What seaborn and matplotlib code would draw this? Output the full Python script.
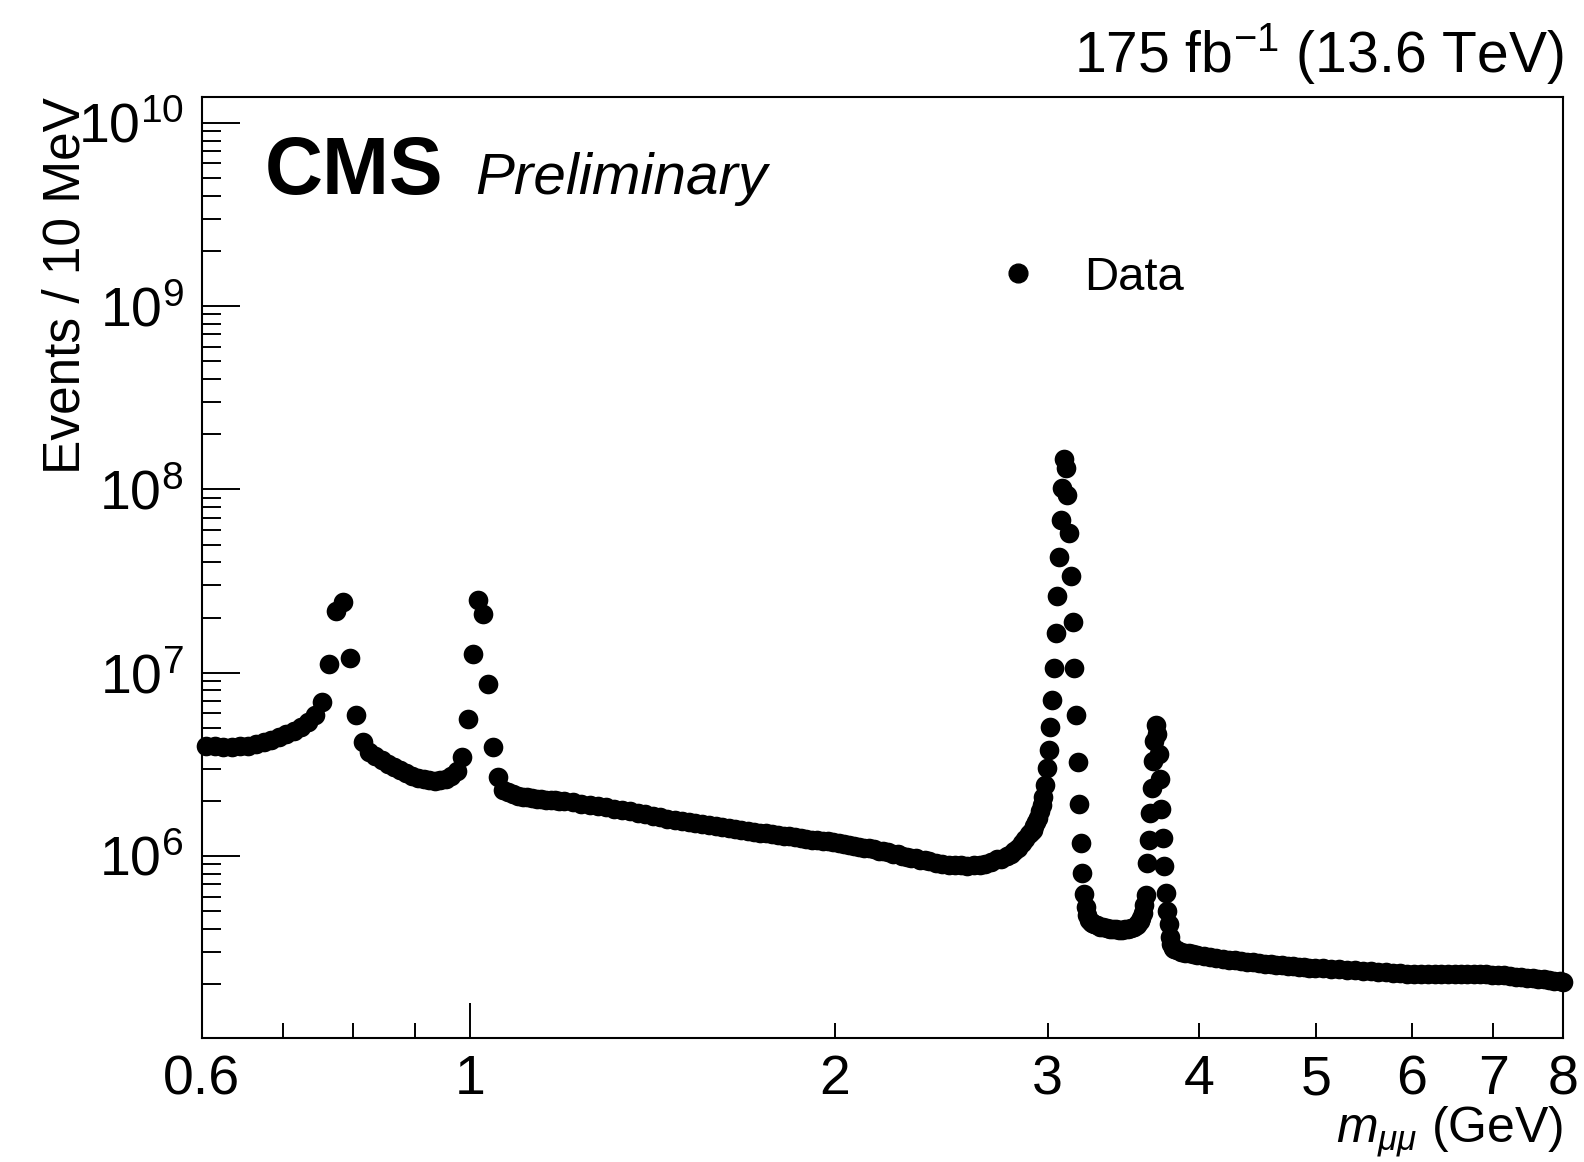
import matplotlib
matplotlib.use("Agg")
import matplotlib.pyplot as plt
import numpy as np
import pandas as pd
import seaborn as sns
from matplotlib.ticker import FixedLocator, FixedFormatter, LogLocator, NullFormatter

# ---------------- data (bin centres in GeV, events / 10 MeV) ----------------
low_m = [0.605, 0.615, 0.625, 0.635, 0.645, 0.655, 0.665, 0.675, 0.685, 0.695,
         0.705, 0.715, 0.725, 0.735, 0.745, 0.755, 0.765, 0.775, 0.785, 0.795,
         0.805, 0.815]
low_n = [4.00e6, 3.96e6, 3.94e6, 3.94e6, 3.96e6, 4.00e6, 4.08e6, 4.18e6, 4.30e6, 4.45e6,
         4.62e6, 4.82e6, 5.06e6, 5.38e6, 5.90e6, 6.95e6, 1.11e7, 2.18e7, 2.42e7, 1.21e7,
         5.88e6, 4.21e6]

mid_m = [0.825, 0.835, 0.845, 0.855, 0.865, 0.875, 0.885, 0.895, 0.905, 0.915,
         0.925, 0.935, 0.945, 0.955, 0.965, 0.975]
mid_n = [3.71e6, 3.50e6, 3.33e6, 3.18e6, 3.05e6, 2.93e6, 2.83e6, 2.74e6, 2.67e6, 2.62e6,
         2.59e6, 2.58e6, 2.60e6, 2.64e6, 2.72e6, 2.90e6]

phi_m = [0.985, 0.995, 1.005, 1.015, 1.025, 1.035, 1.045, 1.055]
phi_n = [3.48e6, 5.57e6, 1.26e7, 2.49e7, 2.09e7, 8.67e6, 3.92e6, 2.71e6]

cont_m = [1.065, 1.075, 1.085, 1.095, 1.105, 1.115, 1.125, 1.135, 1.145, 1.155,
          1.165, 1.175, 1.185, 1.195, 1.215, 1.235, 1.255, 1.275, 1.295, 1.315,
          1.335, 1.355, 1.375, 1.395, 1.415, 1.435, 1.455, 1.475, 1.495, 1.515,
          1.535, 1.555, 1.575, 1.595, 1.615, 1.635, 1.655, 1.675, 1.695, 1.715,
          1.735, 1.755, 1.775, 1.795, 1.815, 1.835, 1.855, 1.875, 1.895, 1.915,
          1.935, 1.955, 1.975, 1.995, 2.015, 2.035, 2.055, 2.075, 2.095, 2.115,
          2.135, 2.155, 2.175, 2.195, 2.215, 2.235, 2.255, 2.275, 2.295, 2.315,
          2.335, 2.355, 2.375, 2.395, 2.425, 2.455, 2.485, 2.515, 2.545, 2.575,
          2.605, 2.635, 2.665, 2.695, 2.725, 2.745, 2.775, 2.795, 2.815, 2.835,
          2.855, 2.875, 2.895, 2.905, 2.915, 2.925, 2.935, 2.945, 2.955, 2.965,
          2.975, 2.985]
cont_n = [2.30e6, 2.22e6, 2.17e6, 2.13e6, 2.10e6, 2.085e6, 2.07e6, 2.055e6, 2.04e6, 2.03e6,
          2.02e6, 2.01e6, 2.00e6, 1.99e6, 1.96e6, 1.93e6, 1.90e6, 1.87e6, 1.84e6, 1.81e6,
          1.78e6, 1.75e6, 1.72e6, 1.69e6, 1.66e6, 1.63e6, 1.60e6, 1.58e6, 1.555e6, 1.53e6,
          1.51e6, 1.49e6, 1.47e6, 1.45e6, 1.435e6, 1.42e6, 1.405e6, 1.39e6, 1.37e6, 1.35e6,
          1.34e6, 1.33e6, 1.315e6, 1.30e6, 1.29e6, 1.28e6, 1.265e6, 1.25e6, 1.24e6, 1.23e6,
          1.22e6, 1.21e6, 1.20e6, 1.19e6, 1.175e6, 1.16e6, 1.15e6, 1.135e6, 1.12e6, 1.11e6,
          1.10e6, 1.085e6, 1.07e6, 1.06e6, 1.045e6, 1.03e6, 1.02e6, 1.005e6, 9.9e5, 9.8e5,
          9.7e5, 9.55e5, 9.45e5, 9.35e5, 9.2e5, 9.08e5, 8.98e5, 8.92e5, 8.88e5, 8.87e5,
          8.9e5, 8.96e5, 9.08e5, 9.3e5, 9.6e5, 9.65e5, 9.95e5, 1.02e6, 1.06e6, 1.11e6,
          1.17e6, 1.24e6, 1.31e6, 1.35e6, 1.39e6, 1.45e6, 1.53e6, 1.62e6, 1.75e6, 1.90e6,
          2.10e6, 2.45e6]

jpsi_m = [2.995, 3.005, 3.015, 3.025, 3.035, 3.045, 3.055, 3.065, 3.075, 3.085,
          3.095, 3.105, 3.115, 3.125, 3.135, 3.145, 3.155, 3.165, 3.175, 3.185,
          3.195, 3.205, 3.215, 3.225]
jpsi_n = [3.01e6, 3.77e6, 5.05e6, 7.06e6, 1.06e7, 1.64e7, 2.63e7, 4.29e7, 6.81e7, 1.02e8,
          1.46e8, 1.31e8, 9.31e7, 5.77e7, 3.37e7, 1.90e7, 1.06e7, 5.85e6, 3.27e6, 1.91e6,
          1.17e6, 8.09e5, 6.18e5, 5.24e5]

gap_m = [3.235, 3.245, 3.255, 3.265, 3.275, 3.295, 3.315, 3.335, 3.355, 3.375,
         3.395, 3.415, 3.435, 3.455, 3.475, 3.495, 3.515, 3.535, 3.555, 3.565,
         3.575, 3.585, 3.595, 3.605]
gap_n = [4.75e5, 4.50e5, 4.38e5, 4.30e5, 4.25e5, 4.18e5, 4.12e5, 4.08e5, 4.05e5, 4.02e5,
         4.00e5, 3.98e5, 3.97e5, 3.97e5, 3.98e5, 4.00e5, 4.05e5, 4.12e5, 4.22e5, 4.30e5,
         4.42e5, 4.60e5, 4.90e5, 5.40e5]

psi2s_m = [3.615, 3.625, 3.635, 3.645, 3.655, 3.665, 3.675, 3.685, 3.695, 3.705,
           3.715, 3.725, 3.735, 3.745, 3.755, 3.765, 3.775, 3.785, 3.795, 3.805]
psi2s_n = [6.12e5, 9.17e5, 1.23e6, 1.72e6, 2.35e6, 3.30e6, 4.22e6, 5.16e6, 4.61e6, 3.61e6,
           2.64e6, 1.80e6, 1.26e6, 8.77e5, 6.27e5, 5.00e5, 4.28e5, 3.60e5, 3.30e5, 3.16e5]

high_m = [3.815, 3.835, 3.865, 3.895, 3.925, 3.955, 3.985, 4.035, 4.085, 4.135,
          4.185, 4.235, 4.285, 4.335, 4.385, 4.435, 4.485, 4.535, 4.585, 4.635,
          4.685, 4.735, 4.785, 4.835, 4.885, 4.935, 4.985, 5.065, 5.145, 5.225,
          5.305, 5.385, 5.465, 5.545, 5.625, 5.705, 5.785, 5.865, 5.945, 6.025,
          6.105, 6.185, 6.265, 6.345, 6.425, 6.505, 6.585, 6.665, 6.745, 6.825,
          6.905, 6.985, 7.065, 7.145, 7.225, 7.305, 7.385, 7.465, 7.545, 7.625,
          7.705, 7.785, 7.865, 7.945, 7.995]
high_n = [3.10e5, 3.06e5, 3.01e5, 2.97e5, 2.94e5, 2.91e5, 2.88e5, 2.84e5, 2.81e5, 2.78e5,
          2.75e5, 2.72e5, 2.70e5, 2.67e5, 2.65e5, 2.63e5, 2.61e5, 2.59e5, 2.57e5, 2.55e5,
          2.535e5, 2.52e5, 2.505e5, 2.49e5, 2.475e5, 2.46e5, 2.45e5, 2.435e5, 2.42e5, 2.405e5,
          2.39e5, 2.375e5, 2.36e5, 2.345e5, 2.33e5, 2.315e5, 2.30e5, 2.29e5, 2.28e5, 2.275e5,
          2.27e5, 2.27e5, 2.27e5, 2.27e5, 2.275e5, 2.28e5, 2.28e5, 2.28e5, 2.28e5, 2.275e5,
          2.265e5, 2.255e5, 2.245e5, 2.23e5, 2.215e5, 2.20e5, 2.185e5, 2.17e5, 2.155e5, 2.14e5,
          2.125e5, 2.11e5, 2.09e5, 2.07e5, 2.06e5]

x_major_ticks = [1.0]
x_major_labels = ["1"]
x_minor_ticks = [0.6, 0.7, 0.8, 0.9, 2, 3, 4, 5, 6, 7, 8]
x_minor_labels = ["0.6", "", "", "", "2", "3", "4", "5", "6", "7", "8"]
y_major_ticks = [1e6, 1e7, 1e8, 1e9, 1e10]
y_major_labels = [r"$10^{6}$", r"$10^{7}$", r"$10^{8}$", r"$10^{9}$", r"$10^{10}$"]

# ---------------- style ----------------
sns.set_style("ticks")
plt.rcParams['font.family'] = ['Liberation Sans', 'DejaVu Sans']
plt.rcParams['mathtext.fontset'] = 'custom'
plt.rcParams['mathtext.rm'] = 'Liberation Sans'
plt.rcParams['mathtext.it'] = 'Liberation Sans:italic'
plt.rcParams['mathtext.bf'] = 'Liberation Sans:bold'
plt.rcParams['axes.linewidth'] = 1.5
plt.rcParams['text.color'] = 'black'
plt.rcParams['axes.labelcolor'] = 'black'
plt.rcParams['xtick.color'] = 'black'
plt.rcParams['ytick.color'] = 'black'
plt.rcParams['axes.edgecolor'] = 'black'

masses = low_m + mid_m + phi_m + cont_m + jpsi_m + gap_m + psi2s_m + high_m
events = low_n + mid_n + phi_n + cont_n + jpsi_n + gap_n + psi2s_n + high_n
df = pd.DataFrame({"mass": masses, "events": events})

fig = plt.figure(figsize=(15.84, 11.62), dpi=100)
ax = fig.add_axes([0.12734, 0.10697, 0.85959, 0.80981])

sns.scatterplot(data=df, x="mass", y="events", ax=ax, color="black", s=200,
                linewidth=0, legend=False, clip_on=False, zorder=3)

ax.set_xscale("log")
ax.set_yscale("log")
ax.set_xlim(0.6, 8)
ax.set_ylim(1.02e5, 1.388e10)

for sp in ax.spines.values():
    sp.set_visible(True)
    sp.set_linewidth(1.5)
    sp.set_color("black")

ax.xaxis.set_major_locator(FixedLocator(x_major_ticks))
ax.xaxis.set_major_formatter(FixedFormatter(x_major_labels))
ax.xaxis.set_minor_locator(FixedLocator(x_minor_ticks))
ax.xaxis.set_minor_formatter(FixedFormatter(x_minor_labels))
ax.yaxis.set_major_locator(FixedLocator(y_major_ticks))
ax.yaxis.set_major_formatter(FixedFormatter(y_major_labels))
ax.yaxis.set_minor_locator(LogLocator(base=10, subs=range(2, 10), numticks=20))
ax.yaxis.set_minor_formatter(NullFormatter())

ax.tick_params(axis="both", which="both", direction="in", top=False, right=False,
               width=1.4, color="black", labelcolor="black")
ax.tick_params(axis="y", which="major", length=27, pad=13, labelsize=40)
ax.tick_params(axis="y", which="minor", length=13.5)
ax.tick_params(axis="x", which="major", length=25, pad=12, labelsize=40)
ax.tick_params(axis="x", which="minor", length=11, pad=12, labelsize=40)

xl = ax.set_xlabel(r"$m_{\mu\mu}$ (GeV)", fontsize=36, loc="right", color="black")
xl.set_va("baseline")
ax.xaxis.set_label_coords(1.0, -0.1115)
yl = ax.set_ylabel("Events / 10 MeV", fontsize=37, loc="top", color="black")
yl.set_va("baseline")
ax.yaxis.set_label_coords(-0.0894, 1.0)

fig.text(1563 / 1584, 1 - 72 / 1162, r"175 fb$^{-1}$ (13.6 TeV)", ha="right",
         va="baseline", fontsize=41, color="black")
ax.text((265 - 201.7) / 1361.6, (1037.7 - 194) / 941.0, "CMS", transform=ax.transAxes,
        fontsize=58, fontweight="bold", ha="left", va="baseline", color="black")
ax.text((475 - 201.7) / 1361.6, (1037.7 - 194) / 941.0, "Preliminary", transform=ax.transAxes,
        fontsize=42, style="italic", ha="left", va="baseline", color="black")

# legend
ax.plot([(1018 - 201.7) / 1361.6], [(1037.7 - 273) / 941.0], "o", color="black",
        markersize=13.5, transform=ax.transAxes, label="Data")
ax.text((1084 - 201.7) / 1361.6, (1037.7 - 290) / 941.0, "Data", transform=ax.transAxes,
        fontsize=34, ha="left", va="baseline", color="black")

fig.savefig("out.png", dpi=100)
